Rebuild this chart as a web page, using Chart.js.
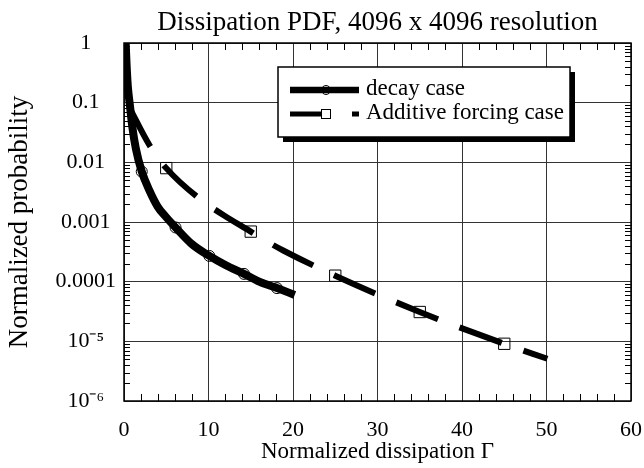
<!DOCTYPE html>
<html lang="en">
<head>
<meta charset="UTF-8">
<title>Dissipation PDF</title>
<script src="https://cdn.jsdelivr.net/npm/chart.js"></script>
<style>
    body { margin: 0; background: #fff; }
    .chart-box { width: 644px; height: 468px; }
</style>
</head>
<body>
<div class="chart-box"><canvas id="pdfChart" width="644" height="468"></canvas></div>
<script>
// decay case: normalized dissipation vs normalized probability
const decayX = [0.2, 0.3, 0.45, 0.7, 1.0, 1.4, 2.1, 3, 4, 5, 6.1, 8, 10.1, 12, 14.2, 16, 18.1, 20.2];
const decayY = [1, 0.45, 0.19, 0.09, 0.038, 0.017, 0.007, 0.0034, 0.0018, 0.0012, 0.00081, 0.00043, 0.00027, 0.00019, 0.000135, 0.0001, 0.000078, 0.00006];
const decayMarkers = [2.1, 6.1, 10.1, 14.2, 18.1];

// additive forcing case
const forcedX = [0.6, 3, 5, 9.2, 11.8, 15, 16.5, 18.9, 25, 35, 45, 50.1];
const forcedY = [0.085, 0.0195, 0.008, 0.0023, 0.0013, 0.00069, 0.00051, 0.00033, 0.000126, 0.000031, 0.0000091, 0.0000051];
const forcedMarkers = [5, 15, 25, 35, 45];

const yTicks = [1, 0.1, 0.01, 0.001, 0.0001, 1e-5, 1e-6];
const yTickLabels = ['1', '0.1', '0.01', '0.001', '0.0001', '10⁻⁵', '10⁻⁶'];

const serif = "'Liberation Serif', 'Times New Roman', serif";

function points(xs, ys) {
    return xs.map((x, i) => ({ x: x, y: ys[i] }));
}

// frame plus the small inward minor ticks
const frameTicks = {
    id: 'frameTicks',
    beforeDatasetsDraw(chart) {
        const { ctx, chartArea: a, scales: { x, y } } = chart;
        ctx.save();
        ctx.strokeStyle = '#000';
        ctx.lineWidth = 1;
        ctx.beginPath();
        for (let d = -6; d < 0; d++) {
            for (let m = 2; m <= 9; m++) {
                const py = Math.round(y.getPixelForValue(m * Math.pow(10, d))) + 0.5;
                ctx.moveTo(a.left, py); ctx.lineTo(a.left + 6, py);
                ctx.moveTo(a.right, py); ctx.lineTo(a.right - 6, py);
            }
        }
        for (let v = 2; v < 60; v += 2) {
            if (v % 10 === 0) continue;
            const px = Math.round(x.getPixelForValue(v)) + 0.5;
            ctx.moveTo(px, a.bottom); ctx.lineTo(px, a.bottom - 7);
            ctx.moveTo(px, a.top); ctx.lineTo(px, a.top + 7);
        }
        ctx.stroke();
        ctx.lineWidth = 1.5;
        ctx.strokeRect(a.left, a.top, a.right - a.left, a.bottom - a.top);
        ctx.restore();
    }
};

// boxed legend with a drop shadow
const boxLegend = {
    id: 'boxLegend',
    afterDraw(chart) {
        const ctx = chart.ctx;
        const bx = 278, by = 67, bw = 292, bh = 70;
        ctx.save();
        ctx.fillStyle = '#000';
        ctx.fillRect(bx + 5, by + 5, bw, bh);
        ctx.fillStyle = '#fff';
        ctx.fillRect(bx, by, bw, bh);
        ctx.strokeStyle = '#000';
        ctx.lineWidth = 1.5;
        ctx.strokeRect(bx, by, bw, bh);

        // decay sample
        ctx.lineWidth = 6.5;
        ctx.beginPath();
        ctx.moveTo(290, 90); ctx.lineTo(359, 90);
        ctx.stroke();
        ctx.lineWidth = 1;
        ctx.beginPath();
        ctx.arc(326, 90, 4.5, 0, Math.PI * 2);
        ctx.stroke();

        // additive forcing sample
        ctx.lineWidth = 5;
        ctx.beginPath();
        ctx.moveTo(290, 114); ctx.lineTo(331, 114);
        ctx.moveTo(352, 114); ctx.lineTo(359, 114);
        ctx.stroke();
        ctx.lineWidth = 1;
        ctx.fillStyle = '#fff';
        ctx.fillRect(321, 109, 10, 10);
        ctx.strokeRect(321.5, 109.5, 9, 9);

        ctx.fillStyle = '#000';
        ctx.font = '23px ' + serif;
        ctx.textBaseline = 'middle';
        ctx.textAlign = 'left';
        ctx.fillText('decay case', 366, 89);
        ctx.fillText('Additive forcing case', 366, 113);
        ctx.restore();
    }
};

new Chart(document.getElementById('pdfChart'), {
    type: 'line',
    data: {
        datasets: [
            {
                label: 'decay case',
                data: points(decayX, decayY),
                borderColor: '#000',
                borderWidth: 8,
                cubicInterpolationMode: 'monotone',
                pointStyle: 'circle',
                pointRadius: c => decayMarkers.includes(decayX[c.dataIndex]) ? 5.5 : 0,
                pointBorderWidth: 1,
                pointBorderColor: '#000',
                pointBackgroundColor: 'rgba(0,0,0,0)'
            },
            {
                label: 'Additive forcing case',
                data: points(forcedX, forcedY),
                borderColor: '#000',
                borderWidth: 6,
                borderDash: [45, 23],
                borderCapStyle: 'butt',
                cubicInterpolationMode: 'monotone',
                pointStyle: 'rect',
                pointRadius: c => forcedMarkers.includes(forcedX[c.dataIndex]) ? 8 : 0,
                pointBorderWidth: 1,
                pointBorderColor: '#000',
                pointBackgroundColor: 'rgba(0,0,0,0)'
            }
        ]
    },
    options: {
        responsive: false,
        animation: false,
        events: [],
        devicePixelRatio: 1,
        layout: { padding: { left: 0, right: 13, top: 0, bottom: 0 } },
        plugins: {
            legend: { display: false },
            tooltip: { enabled: false },
            title: {
                display: true,
                fullSize: false,
                text: 'Dissipation PDF, 4096 x 4096 resolution',
                color: '#000',
                font: { family: serif, size: 27, weight: 'normal' },
                padding: { top: 7, bottom: 3.6 }
            }
        },
        scales: {
            x: {
                type: 'linear',
                min: 0,
                max: 60,
                afterFit: s => { s.height = 67; s.paddingLeft = 0; s.paddingRight = 11; },
                ticks: { stepSize: 10, color: '#000', padding: 16, font: { family: serif, size: 22 } },
                grid: { color: '#333', lineWidth: 1, drawTicks: false },
                border: { display: false },
                title: {
                    display: true,
                    text: 'Normalized dissipation Γ',
                    color: '#000',
                    font: { family: serif, size: 23 },
                    padding: { top: 0, bottom: 2 }
                }
            },
            y: {
                type: 'logarithmic',
                min: 1e-6,
                max: 1,
                afterFit: s => { s.width = 124; },
                afterBuildTicks: s => { s.ticks = yTicks.map(v => ({ value: v })); },
                ticks: {
                    color: '#000',
                    padding: 8,
                    crossAlign: 'center',
                    font: { family: serif, size: 22 },
                    callback: v => yTickLabels[yTicks.indexOf(v)]
                },
                grid: { color: '#333', lineWidth: 1, drawTicks: false },
                border: { display: false },
                title: {
                    display: true,
                    text: 'Normalized probability',
                    color: '#000',
                    font: { family: serif, size: 27 },
                    padding: { top: 4, bottom: 0 }
                }
            }
        }
    },
    plugins: [frameTicks, boxLegend]
});
</script>
</body>
</html>
